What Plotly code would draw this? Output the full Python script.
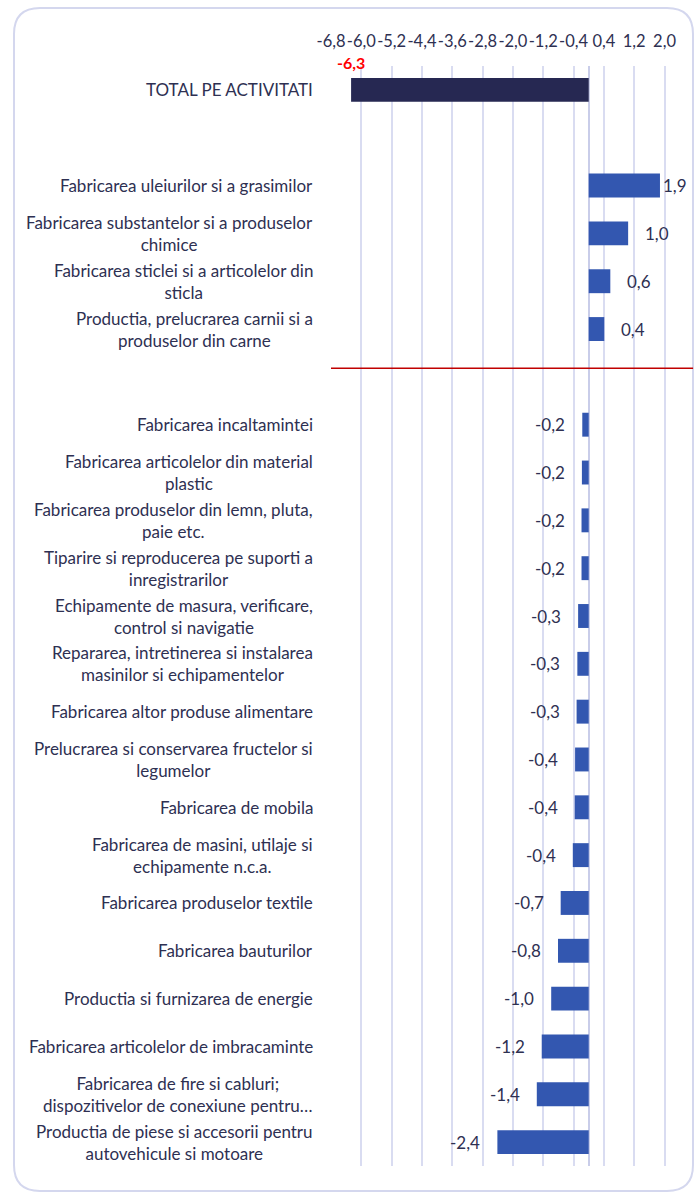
import plotly.graph_objects as go

# ---- data ----
total_label = "TOTAL PE ACTIVITATI"
total_value = -6.27

pos_labels = [
    "Fabricarea uleiurilor si a grasimilor",
    "Fabricarea substantelor si a produselor<br>chimice",
    "Fabricarea sticlei si a articolelor din<br>sticla",
    "Productia, prelucrarea carnii si a<br>produselor din carne",
]
pos_values = [1.88, 1.04, 0.57, 0.41]

neg_labels = [
    "Fabricarea incaltamintei",
    "Fabricarea articolelor din material<br>plastic",
    "Fabricarea produselor din lemn, pluta,<br>paie etc.",
    "Tiparire si reproducerea pe suporti a<br>inregistrarilor",
    "Echipamente de masura, verificare,<br>control si navigatie",
    "Repararea, intretinerea si instalarea<br>masinilor si echipamentelor",
    "Fabricarea altor produse alimentare",
    "Prelucrarea si conservarea fructelor si<br>legumelor",
    "Fabricarea de mobila",
    "Fabricarea de masini, utilaje si<br>echipamente n.c.a.",
    "Fabricarea produselor textile",
    "Fabricarea bauturilor",
    "Productia si furnizarea de energie",
    "Fabricarea articolelor de imbracaminte",
    "Fabricarea de fire si cabluri;<br>dispozitivelor de conexiune pentru…",
    "Productia de piese si accesorii pentru<br>autovehicule si motoare",
]
neg_values = [-0.17, -0.18, -0.19, -0.19, -0.28, -0.30, -0.32, -0.36, -0.37,
              -0.42, -0.74, -0.81, -0.99, -1.24, -1.37, -2.41]

tick_values = [-6.8, -6.0, -5.2, -4.4, -3.6, -2.8, -2.0, -1.2, -0.4, 0.4, 1.2, 2.0]
tick_labels = ["-6,8", "-6,0", "-5,2", "-4,4", "-3,6", "-2,8", "-2,0", "-1,2",
               "-0,4", "0,4", "1,2", "2,0"]

# ---- build slots (blank rows separate the groups) ----
blank1, blank2 = " ", "  "
slots = [total_label, blank1] + pos_labels + [blank2] + neg_labels
vals = [total_value, None] + pos_values + [None] + neg_values

FONT = "Lato"
FS = 17
TXT = "#2e3052"
DARK = "#262852"
BLUE = "#3357b0"

colors = [DARK] + [BLUE] * (len(slots) - 1)

def fmt(v):
    return f"{v:.1f}".replace(".", ",")

fig = go.Figure()
fig.add_trace(go.Bar(
    y=slots, x=vals, orientation="h",
    marker=dict(color=colors, line=dict(width=0)),
    hoverinfo="skip", showlegend=False,
))

annotations = []
# category labels (centered lines, right-anchored block)
for s in slots:
    if s.strip() == "":
        continue
    annotations.append(dict(
        xref="paper", x=0, yref="y", y=s, xanchor="right", yanchor="middle",
        xshift=-16, text=s, showarrow=False, align="center",
        font=dict(family=FONT, size=FS, color=TXT),
    ))

# value labels
annotations.append(dict(
    x=total_value, y=total_label, text=fmt(total_value), showarrow=False,
    xanchor="center", yanchor="middle", yshift=27,
    font=dict(family=FONT, size=16, color="#ff0000", weight="bold"),
))
for s, v in zip(pos_labels, pos_values):
    annotations.append(dict(
        x=v, y=s, text=fmt(v), showarrow=False, xanchor="left",
        yanchor="middle", xshift=1 if v > 1.5 else 15,
        font=dict(family=FONT, size=FS, color=TXT),
    ))
for s, v in zip(neg_labels, neg_values):
    annotations.append(dict(
        x=v, y=s, text=fmt(v), showarrow=False, xanchor="right",
        yanchor="middle", xshift=-15,
        font=dict(family=FONT, size=FS, color=TXT),
    ))

# ---- geometry helpers for the card frame ----
W, H = 697, 1192
ML, MR, MT, MB = 331, 5, 66, 26
PW, PH = W - ML - MR, H - MT - MB

def px(x):
    return (x - ML) / PW

def py(y):
    return (H - MB - y) / PH

def rounded_rect(x0, y0, x1, y1, r):
    return (f"M {px(x0+r)} {py(y0)} L {px(x1-r)} {py(y0)} "
            f"Q {px(x1)} {py(y0)} {px(x1)} {py(y0+r)} "
            f"L {px(x1)} {py(y1-r)} Q {px(x1)} {py(y1)} {px(x1-r)} {py(y1)} "
            f"L {px(x0+r)} {py(y1)} Q {px(x0)} {py(y1)} {px(x0)} {py(y1-r)} "
            f"L {px(x0)} {py(y0+r)} Q {px(x0)} {py(y0)} {px(x0+r)} {py(y0)} Z")

shapes = [
    dict(type="path", xref="paper", yref="paper",
         path=rounded_rect(14, 8, 693, 1191, 26),
         line=dict(color="#d4d7ee", width=2), layer="below"),
    dict(type="line", xref="paper", x0=0, x1=1.003, yref="y", y0=5.82, y1=5.82,
         line=dict(color="#c00000", width=1.5)),
]

fig.update_layout(
    width=W, height=H,
    margin=dict(l=ML, r=MR, t=MT, b=MB),
    paper_bgcolor="white", plot_bgcolor="rgba(0,0,0,0)",
    bargap=0.5,
    font=dict(family=FONT, size=FS, color=TXT),
    xaxis=dict(
        side="top", range=[-6.8, 2.725], tickvals=tick_values, ticktext=tick_labels,
        tickangle=0,
        showgrid=True, gridcolor="#d9dcf1", gridwidth=1.5,
        zeroline=True, zerolinecolor="#c9cde9", zerolinewidth=2,
        showline=False, ticks="", ticklabelstandoff=15,
        tickfont=dict(family=FONT, size=16.5, color=TXT),
        fixedrange=True,
    ),
    yaxis=dict(
        type="category", categoryorder="array", categoryarray=slots,
        autorange="reversed", showticklabels=False, showgrid=False,
        zeroline=False, showline=False, ticks="", fixedrange=True,
    ),
    annotations=annotations,
    shapes=shapes,
)

fig.write_html("out.html", config={"displayModeBar": False},
               post_script="document.body.style.margin='0';")
